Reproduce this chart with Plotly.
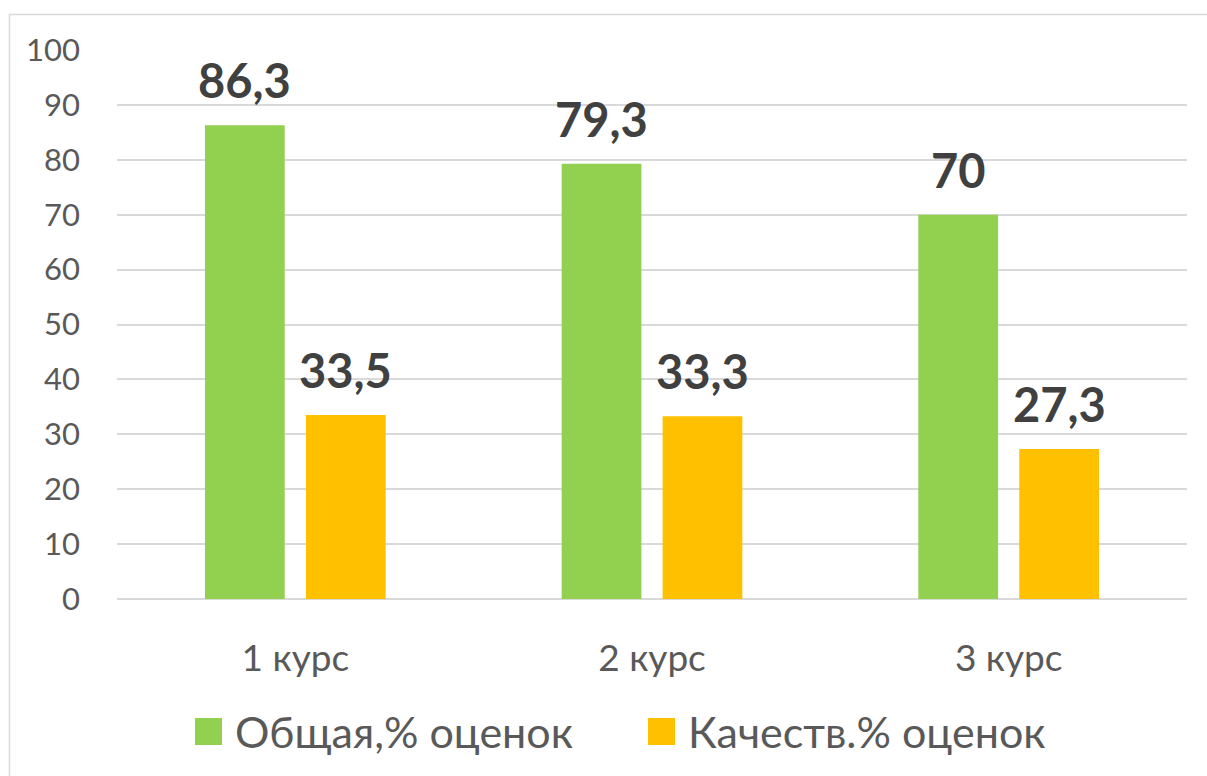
import plotly.graph_objects as go

categories = ["1 курс", "2 курс", "3 курс"]
series_names = ["Общая,% оценок", "Качеств.% оценок"]
overall = [86.3, 79.3, 70]
quality = [33.5, 33.3, 27.3]
tick_vals = [0, 10, 20, 30, 40, 50, 60, 70, 80, 90, 100]

colors = ["#92D050", "#FFC000"]
FONT = "Lato, 'Open Sans', sans-serif"

W, H = 1207, 776
ML, MR, MT, MB = 117, 20, 50, 177
PW, PH = W - ML - MR, H - MT - MB

def fmt(v):
    s = ("%g" % v)
    return s.replace(".", ",")

fig = go.Figure()
for name, vals, col in zip(series_names, [overall, quality], colors):
    fig.add_trace(go.Bar(x=categories, y=vals, name=name, marker_color=col,
                         marker_line_width=0, showlegend=False))

# data labels
cat_w = PW / len(categories)
slot = cat_w * (1 - 0.434) / 2
for si, vals in enumerate([overall, quality]):
    off = (si - 0.5) * slot
    for c, v in zip(categories, vals):
        fig.add_annotation(x=c, y=v, text="<b>%s</b>" % fmt(v), showarrow=False,
                           xshift=off, yanchor="bottom", yshift=15,
                           font=dict(family=FONT, size=47, color="#404040"))

# legend (manual)
def px_to_paper_x(px):
    return (px - ML) / PW

def px_to_paper_y(py):
    return (H - MB - py) / PH

legend_items = [(195, 235), (648, 688)]
for (sx, tx), name, col in zip(legend_items, series_names, colors):
    fig.add_shape(type="rect", xref="paper", yref="paper",
                  x0=px_to_paper_x(sx), x1=px_to_paper_x(sx + 27),
                  y0=px_to_paper_y(745), y1=px_to_paper_y(718),
                  fillcolor=col, line_width=0)
    fig.add_annotation(xref="paper", yref="paper", x=px_to_paper_x(tx - 2),
                       y=px_to_paper_y(731), xanchor="left", yanchor="middle",
                       text=name, showarrow=False,
                       font=dict(family=FONT, size=43, color="#595959"))

# chart border
fig.add_shape(type="rect", xref="paper", yref="paper",
              x0=px_to_paper_x(9.5), x1=px_to_paper_x(1215),
              y0=px_to_paper_y(800), y1=px_to_paper_y(14.5),
              line=dict(color="#D9D9D9", width=1.5), fillcolor="rgba(0,0,0,0)",
              layer="below")

fig.update_layout(
    width=W, height=H,
    margin=dict(l=ML, r=MR, t=MT, b=MB, pad=0),
    paper_bgcolor="white", plot_bgcolor="white",
    barmode="group", bargap=0.434, bargroupgap=0.21,
    font=dict(family=FONT, color="#595959"),
    showlegend=False,
)
fig.update_yaxes(range=[0, 100], tickvals=tick_vals, showgrid=True,
                 gridcolor="#D9D9D9", gridwidth=1.5, zeroline=True,
                 zerolinecolor="#D9D9D9", zerolinewidth=1.5,
                 showline=False, ticks="", ticklen=0,
                 tickfont=dict(family=FONT, size=31, color="#595959"),
                 ticklabelstandoff=36)
fig.update_xaxes(showgrid=False, showline=False, ticks="",
                 tickfont=dict(family=FONT, size=37, color="#595959"),
                 ticklabelstandoff=34)

fig.write_html("out.html", config={"displayModeBar": False},
               post_script="document.body.style.margin='0';")
